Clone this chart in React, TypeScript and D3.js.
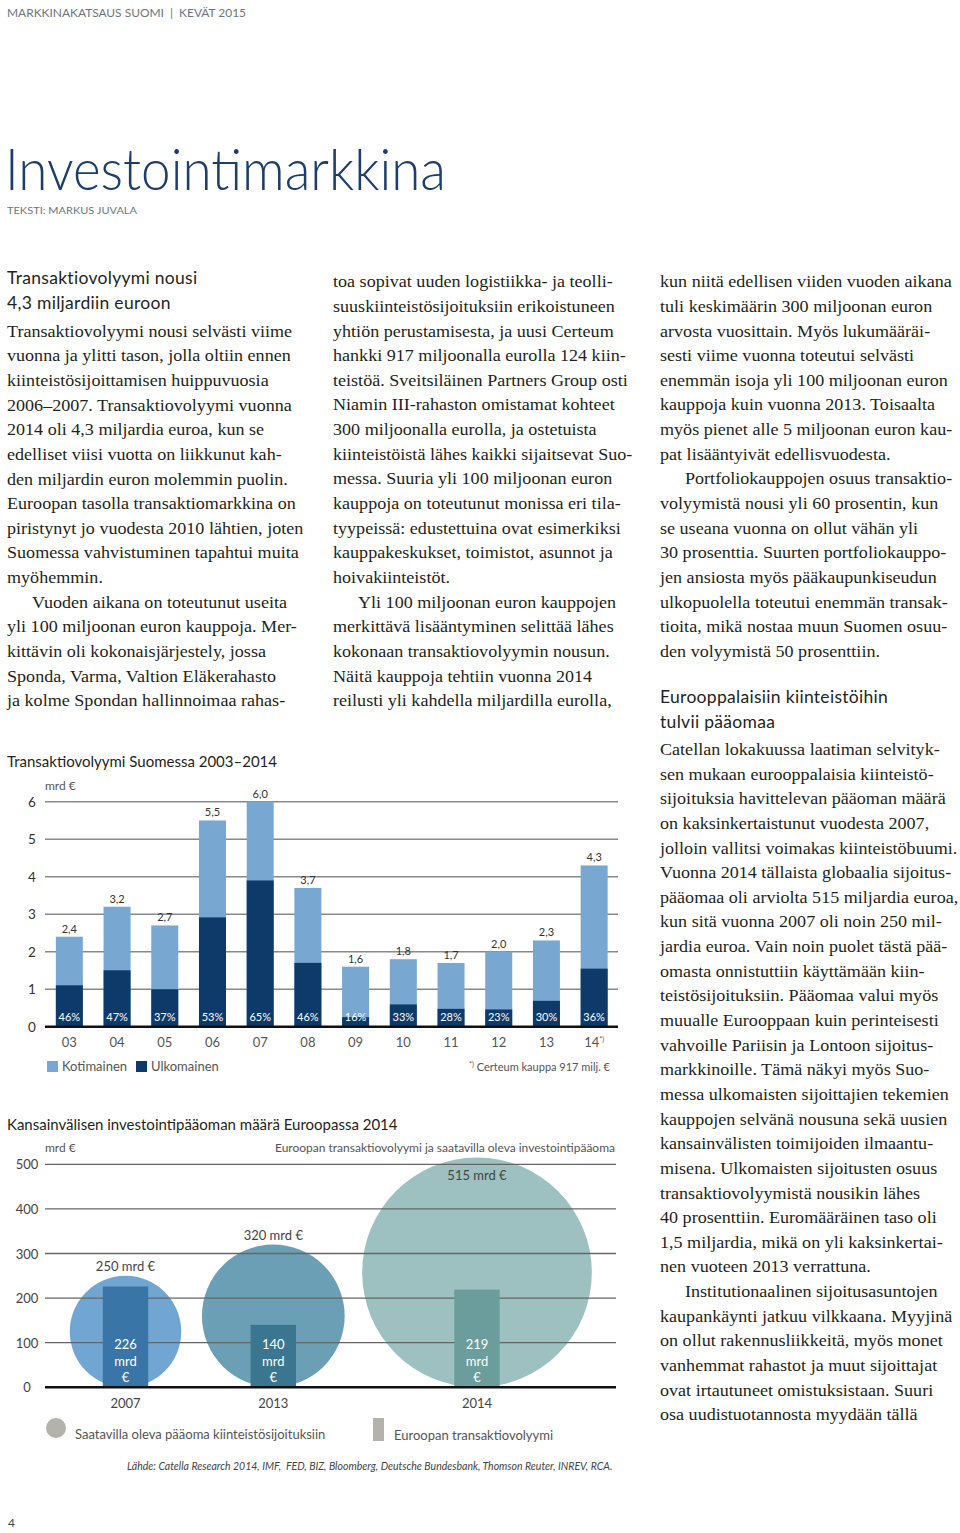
import React from "react";
import * as d3 from "d3";

// ---------- Chart 1 data ----------
const years1 = ["03", "04", "05", "06", "07", "08", "09", "10", "11", "12", "13", "14"];
const totals1 = [2.4, 3.2, 2.7, 5.5, 6.0, 3.7, 1.6, 1.8, 1.7, 2.0, 2.3, 4.3];
const foreignShare1 = [46, 47, 37, 53, 65, 46, 16, 33, 28, 23, 30, 36];
const yTicks1 = [0, 1, 2, 3, 4, 5, 6];

// ---------- Chart 2 data ----------
const years2 = ["2007", "2013", "2014"];
const capital2 = [250, 320, 515];
const volume2 = [226, 140, 219];
const yTicks2 = [0, 100, 200, 300, 400, 500];

// ---------- Text ----------
const col1Heading = ["Transaktiovolyymi nousi", "4,3 miljardiin euroon"];
const col1Lines = [
  "Transaktiovolyymi nousi selvästi viime",
  "vuonna ja ylitti tason, jolla oltiin ennen",
  "kiinteistösijoittamisen huippuvuosia",
  "2006–2007. Transaktiovolyymi vuonna",
  "2014 oli 4,3 miljardia euroa, kun se",
  "edelliset viisi vuotta on liikkunut kah-",
  "den miljardin euron molemmin puolin.",
  "Euroopan tasolla transaktiomarkkina on",
  "piristynyt jo vuodesta 2010 lähtien, joten",
  "Suomessa vahvistuminen tapahtui muita",
  "myöhemmin.",
  "\u2003Vuoden aikana on toteutunut useita",
  "yli 100 miljoonan euron kauppoja. Mer-",
  "kittävin oli kokonaisjärjestely, jossa",
  "Sponda, Varma, Valtion Eläkerahasto",
  "ja kolme Spondan hallinnoimaa rahas-",
];
const col2Lines = [
  "toa sopivat uuden logistiikka- ja teolli-",
  "suuskiinteistösijoituksiin erikoistuneen",
  "yhtiön perustamisesta, ja uusi Certeum",
  "hankki 917 miljoonalla eurolla 124 kiin-",
  "teistöä. Sveitsiläinen Partners Group osti",
  "Niamin III-rahaston omistamat kohteet",
  "300 miljoonalla eurolla, ja ostetuista",
  "kiinteistöistä lähes kaikki sijaitsevat Suo-",
  "messa. Suuria yli 100 miljoonan euron",
  "kauppoja on toteutunut monissa eri tila-",
  "tyypeissä: edustettuina ovat esimerkiksi",
  "kauppakeskukset, toimistot, asunnot ja",
  "hoivakiinteistöt.",
  "\u2003Yli 100 miljoonan euron kauppojen",
  "merkittävä lisääntyminen selittää lähes",
  "kokonaan transaktiovolyymin nousun.",
  "Näitä kauppoja tehtiin vuonna 2014",
  "reilusti yli kahdella miljardilla eurolla,",
];
const col3Lines = [
  "kun niitä edellisen viiden vuoden aikana",
  "tuli keskimäärin 300 miljoonan euron",
  "arvosta vuosittain. Myös lukumääräi-",
  "sesti viime vuonna toteutui selvästi",
  "enemmän isoja yli 100 miljoonan euron",
  "kauppoja kuin vuonna 2013. Toisaalta",
  "myös pienet alle 5 miljoonan euron kau-",
  "pat lisääntyivät edellisvuodesta.",
  "\u2003Portfoliokauppojen osuus transaktio-",
  "volyymistä nousi yli 60 prosentin, kun",
  "se useana vuonna on ollut vähän yli",
  "30 prosenttia. Suurten portfoliokauppo-",
  "jen ansiosta myös pääkaupunkiseudun",
  "ulkopuolella toteutui enemmän transak-",
  "tioita, mikä nostaa muun Suomen osuu-",
  "den volyymistä 50 prosenttiin.",
];
const col3Heading = ["Eurooppalaisiin kiinteistöihin", "tulvii pääomaa"];
const col3bLines = [
  "Catellan lokakuussa laatiman selvityk-",
  "sen mukaan eurooppalaisia kiinteistö-",
  "sijoituksia havittelevan pääoman määrä",
  "on kaksinkertaistunut vuodesta 2007,",
  "jolloin vallitsi voimakas kiinteistöbuumi.",
  "Vuonna 2014 tällaista globaalia sijoitus-",
  "pääomaa oli arviolta 515 miljardia euroa,",
  "kun sitä vuonna 2007 oli noin 250 mil-",
  "jardia euroa. Vain noin puolet tästä pää-",
  "omasta onnistuttiin käyttämään kiin-",
  "teistösijoituksiin. Pääomaa valui myös",
  "muualle Eurooppaan kuin perinteisesti",
  "vahvoille Pariisin ja Lontoon sijoitus-",
  "markkinoille. Tämä näkyi myös Suo-",
  "messa ulkomaisten sijoittajien tekemien",
  "kauppojen selvänä nousuna sekä uusien",
  "kansainvälisten toimijoiden ilmaantu-",
  "misena. Ulkomaisten sijoitusten osuus",
  "transaktiovolyymistä nousikin lähes",
  "40 prosenttiin. Euromääräinen taso oli",
  "1,5 miljardia, mikä on yli kaksinkertai-",
  "nen vuoteen 2013 verrattuna.",
  "\u2003Institutionaalinen sijoitusasuntojen",
  "kaupankäynti jatkuu vilkkaana. Myyjinä",
  "on ollut rakennusliikkeitä, myös monet",
  "vanhemmat rahastot ja muut sijoittajat",
  "ovat irtautuneet omistuksistaan. Suuri",
  "osa uudistuotannosta myydään tällä",
];

const SANS = "Lato, 'Open Sans', sans-serif";
const SERIF = "'Liberation Serif', 'DejaVu Serif', serif";
const LH = 24.64;
const SX = 1.07;

const BodyLines = ({ lines, x, y0 }: { lines: string[]; x: number; y0: number }) => (
  <g transform={`translate(${x},0) scale(${SX},1)`} fontFamily={SERIF} fontSize={16.9} fill="#231f20">
    {lines.map((l, i) => {
      const indent = l.startsWith("\u2003");
      return (
        <text key={i} x={indent ? 25 / SX : 0} y={y0 + i * LH}>
          {indent ? l.slice(1) : l}
        </text>
      );
    })}
  </g>
);

const fmt = (v: number) => v.toFixed(1).replace(".", ",");

function Chart1() {
  const x = d3.scaleBand<string>().domain(years1).range([45.5, 618]).paddingInner(0.434).paddingOuter(0.217);
  const y = d3.scaleLinear().domain([0, 6]).range([1026.7, 801.7]);
  const light = "#78a8d1";
  const dark = "#0e3a6a";
  return (
    <g>
      <text x={7} y={767} fontFamily={SANS} fontSize={15} fill="#231f20">
        Transaktiovolyymi Suomessa 2003–2014
      </text>
      <text x={45} y={790} fontFamily={SANS} fontSize={12} fill="#555">mrd €</text>
      {yTicks1.slice(1).map((t) => (
        <line key={t} x1={45} x2={618} y1={y(t)} y2={y(t)} stroke="#8a8a8a" strokeWidth={1.4} />
      ))}
      {yTicks1.map((t) => (
        <text key={t} x={32} y={y(t) + 5} textAnchor="middle" fontFamily={SANS} fontSize={13.5} fill="#333">
          {t}
        </text>
      ))}
      {years1.map((yr, i) => {
        const bx = x(yr)!;
        const w = x.bandwidth();
        const tot = totals1[i];
        const f = (tot * foreignShare1[i]) / 100;
        return (
          <g key={yr}>
            <rect x={bx} y={y(tot)} width={w} height={y(0) - y(tot)} fill={light} />
            <rect x={bx} y={y(f)} width={w} height={y(0) - y(f)} fill={dark} />
            <text x={bx + w / 2} y={y(tot) - 4} textAnchor="middle" fontFamily={SANS} fontSize={11} fill="#333">
              {fmt(tot)}
            </text>
            <text x={bx + w / 2} y={1021} textAnchor="middle" fontFamily={SANS} fontSize={11} fill="#fff">
              {foreignShare1[i]}%
            </text>
            <text x={bx + w / 2} y={1047} textAnchor="middle" fontFamily={SANS} fontSize={13} fill="#555">
              {yr}
              {i === years1.length - 1 ? <tspan fontSize={7} dy={-5}>*)</tspan> : null}
            </text>
          </g>
        );
      })}
      <line x1={45} x2={618} y1={y(0)} y2={y(0)} stroke="#111" strokeWidth={2.6} />
      <rect x={47} y={1061} width={11} height={11} fill={light} />
      <text x={62} y={1071} fontFamily={SANS} fontSize={13} fill="#555">Kotimainen</text>
      <rect x={136} y={1061} width={11} height={11} fill={dark} />
      <text x={151} y={1071} fontFamily={SANS} fontSize={13} fill="#555">Ulkomainen</text>
      <text x={610} y={1071} textAnchor="end" fontFamily={SANS} fontSize={11} fill="#555">
        <tspan fontSize={7} dy={-4}>*)</tspan>
        <tspan dy={4}> Certeum kauppa 917 milj. €</tspan>
      </text>
    </g>
  );
}

function Chart2() {
  const y = d3.scaleLinear().domain([0, 500]).range([1387.3, 1164.3]);
  const x = d3.scaleOrdinal<string, number>().domain(years2).range([125.5, 273.3, 477]);
  const circleFill = ["#72a6d2", "#6a9fb5", "#9dc1c0"];
  const barFill = ["#3a75a8", "#3a7690", "#6a9d9b"];
  const barW = 45.4;
  return (
    <g>
      <text x={7} y={1130} fontFamily={SANS} fontSize={15} fill="#231f20">
        Kansainvälisen investointipääoman määrä Euroopassa 2014
      </text>
      <text x={45} y={1152} fontFamily={SANS} fontSize={12} fill="#555">mrd €</text>
      <text x={615} y={1152} textAnchor="end" fontFamily={SANS} fontSize={12} fill="#555">
        Euroopan transaktiovolyymi ja saatavilla oleva investointipääoma
      </text>
      {years2.map((yr, i) => {
        const r = (y(0) - y(capital2[i])) / 2;
        return <circle key={yr} cx={x(yr)} cy={y(0) - r} r={r} fill={circleFill[i]} />;
      })}
      {yTicks2.slice(1).map((t) => (
        <line key={t} x1={45} x2={616} y1={y(t)} y2={y(t)} stroke="#666" strokeWidth={1.3} />
      ))}
      {yTicks2.map((t) => (
        <text key={t} x={27} y={y(t) + 5} textAnchor="middle" fontFamily={SANS} fontSize={13} fill="#444">
          {t}
        </text>
      ))}
      {years2.map((yr, i) => {
        const cx = x(yr);
        const top = y(capital2[i]);
        const inside = i === years2.length - 1;
        return (
          <g key={yr}>
            <rect x={cx - barW / 2} y={y(volume2[i])} width={barW} height={y(0) - y(volume2[i])} fill={barFill[i]} />
            <text x={cx} y={inside ? top + 22 : top - 5} textAnchor="middle" fontFamily={SANS} fontSize={13} fill="#444">
              {capital2[i]} mrd €
            </text>
            {[String(volume2[i]), "mrd", "€"].map((s, k) => (
              <text key={k} x={cx} y={1349 + k * 16.5} textAnchor="middle" fontFamily={SANS} fontSize={13} fill="#fff">
                {s}
              </text>
            ))}
            <text x={cx} y={1408} textAnchor="middle" fontFamily={SANS} fontSize={13} fill="#444">
              {yr}
            </text>
          </g>
        );
      })}
      <line x1={45} x2={616} y1={y(0)} y2={y(0)} stroke="#111" strokeWidth={2.6} />
      <circle cx={56} cy={1428} r={10} fill="#b4b2ad" />
      <text x={75} y={1439} fontFamily={SANS} fontSize={13} fill="#555">
        Saatavilla oleva pääoma kiinteistösijoituksiin
      </text>
      <rect x={373} y={1418} width={11} height={23} fill="#b4b2ad" />
      <text x={394} y={1440} fontFamily={SANS} fontSize={13} fill="#555">Euroopan transaktiovolyymi</text>
      <text x={127} y={1470} fontFamily={SANS} fontStyle="italic" fontSize={10.5} fill="#444">
        Lähde: Catella Research 2014, IMF,{"\u00a0\u00a0"}FED, BIZ, Bloomberg, Deutsche Bundesbank, Thomson Reuter, INREV, RCA.
      </text>
    </g>
  );
}

export default function App() {
  return (
    <div style={{ position: "absolute", left: 0, top: 0, width: 960, height: 1533, background: "#fff" }}>
      <svg width={960} height={1533} viewBox="0 0 960 1533" style={{ display: "block" }}>
        <rect width={960} height={1533} fill="#fff" />
        <text x={7} y={17} fontFamily={SANS} fontSize={12} fill="#6d7680" textLength={239} lengthAdjust="spacingAndGlyphs">
          {"MARKKINAKATSAUS SUOMI\u00a0\u00a0|\u00a0\u00a0KEVÄT 2015"}
        </text>
        <text x={5} y={190} fontFamily={SANS} fontWeight={300} fontSize={58} fill="#1d3d6c" textLength={441} lengthAdjust="spacingAndGlyphs">
          Investointimarkkina
        </text>
        <text x={7} y={214} fontFamily={SANS} fontSize={10} fill="#6d7680" textLength={130} lengthAdjust="spacingAndGlyphs">
          TEKSTI: MARKUS JUVALA
        </text>

        <g fontFamily={SANS} fontSize={17.5} fill="#231f20" letterSpacing={0.3}>
          {col1Heading.map((h, i) => (
            <text key={i} x={7} y={284 + i * LH}>{h}</text>
          ))}
          {col3Heading.map((h, i) => (
            <text key={i} x={660} y={703 + i * LH}>{h}</text>
          ))}
        </g>
        <BodyLines lines={col1Lines} x={7} y0={336.7} />
        <BodyLines lines={col2Lines} x={333} y0={287.3} />
        <BodyLines lines={col3Lines} x={660} y0={287.3} />
        <BodyLines lines={col3bLines} x={660} y0={755} />

        <Chart1 />
        <Chart2 />

        <text x={8} y={1527} fontFamily={SANS} fontSize={12} fill="#444">4</text>
      </svg>
    </div>
  );
}
